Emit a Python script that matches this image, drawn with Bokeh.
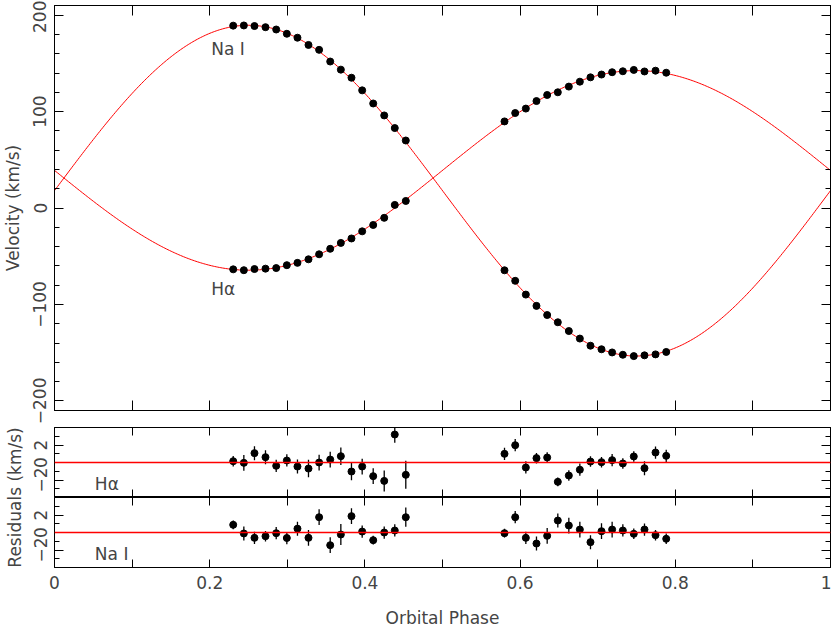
import math
import numpy as np
from bokeh.plotting import figure
from bokeh.models import LinearAxis, FixedTicker, CustomJSTickFormatter, Range1d, Span, Label
from bokeh.layouts import row, column
from bokeh.embed import file_html
from bokeh.resources import INLINE

# ---------------- data ----------------
phase = [0.2303, 0.2440, 0.2577, 0.2719, 0.2857, 0.2994, 0.3131, 0.3273, 0.3410,
         0.3553, 0.3690, 0.3827, 0.3965, 0.4107, 0.4249, 0.4385, 0.4527,
         0.5799, 0.5937, 0.6074, 0.6211, 0.6349, 0.6486, 0.6628, 0.6770,
         0.6907, 0.7049, 0.7186, 0.7324, 0.7465, 0.7603, 0.7745, 0.7883]

na_vel = [189.1, 189.3, 188.7, 187.5, 185.1, 180.7, 176.6, 169.1, 164.0,
          151.9, 143.5, 135.1, 122.0, 108.4, 96.0, 82.9, 70.0,
          -64.6, -75.5, -89.8, -101.5, -111.0, -118.5, -127.6, -135.4,
          -142.8, -146.5, -149.8, -152.2, -153.6, -152.8, -151.8, -149.3]

ha_vel = [-63.6, -64.5, -63.3, -62.9, -62.3, -59.3, -56.9, -53.2, -48.0,
          -42.3, -36.2, -31.6, -24.2, -17.6, -10.2, 3.2, 7.3,
          89.8, 98.5, 103.1, 110.9, 117.2, 120.0, 125.9, 131.0,
          135.5, 138.4, 140.8, 141.8, 143.2, 141.6, 142.4, 140.3]

ha_res = [0.15, -0.04, 1.07, 0.61, -0.38, 0.23, -0.46, -0.69, 0.0,
          0.34, 0.72, -1.03, -0.46, -1.56, -2.10, 3.2, -1.41,
          0.99, 1.98, -0.57, 0.50, 0.57, -2.21, -1.49, -0.82,
          0.11, 0.04, 0.27, -0.11, 0.69, -0.65, 1.14, 0.76]
ha_err = [0.6, 0.9, 0.8, 0.8, 0.7, 0.7, 0.8, 1.0, 0.9,
          0.9, 1.0, 1.0, 0.9, 0.9, 1.2, 0.95, 1.6,
          0.7, 0.7, 0.7, 0.6, 0.6, 0.5, 0.6, 0.7,
          0.6, 0.6, 0.7, 0.6, 0.6, 0.8, 0.7, 0.7]

na_res = [0.88, -0.11, -0.61, -0.42, -0.08, -0.63, 0.44, -0.61, 1.75,
          -1.45, -0.23, 1.87, 0.11, -0.88, 0.0, 0.23, 1.75,
          -0.08, 1.75, -0.61, -1.26, -0.38, 1.37, 0.8, 0.34,
          -1.1, 0.15, 0.34, 0.23, -0.15, 0.34, -0.30, -0.72]
na_err = [0.5, 0.8, 0.7, 0.6, 0.7, 0.7, 0.8, 0.9, 0.9,
          0.9, 1.2, 0.9, 0.7, 0.5, 0.7, 0.7, 1.1,
          0.5, 0.7, 0.7, 0.8, 0.9, 0.8, 0.9, 0.9,
          0.8, 0.9, 0.9, 0.7, 0.6, 0.7, 0.6, 0.6]

# sinusoidal orbit fits: v = gamma + K sin(2 pi phase)
na_gamma, na_k = 18.0, 171.5
ha_gamma, ha_k = 39.0, -103.5

x_ticks = [0, 0.2, 0.4, 0.6, 0.8, 1]
x_minor = [0.1, 0.3, 0.5, 0.7, 0.9]
v_ticks = [-200, -100, 0, 100, 200]
v_minor = list(range(-200, 201, 20))
r_ticks = [-2, 0, 2]
r_minor = [-3, -2, -1, 0, 1, 2, 3]

# ---------------- style / layout ----------------
FONT = "DejaVu Sans"
TXT = "#444444"
FS = "17px"
LBL_W = 25
BORDER_L = 29
FRAME_W = 776
BORDER_R = 1
TOP_B = 5
TOP_FH = 405
GAP = 17
RES_FH = 70
BOT_B = 59
TOTAL_H = TOP_B + TOP_FH + GAP + 2 * RES_FH + BOT_B

fmt = CustomJSTickFormatter(code="return String(tick).replace('-', '\u2212');")
blank = CustomJSTickFormatter(code="return '';")


def make_fig(frame_h, yr, mtop, mbot):
    p = figure(frame_width=FRAME_W, frame_height=frame_h,
               x_range=Range1d(0, 1), y_range=Range1d(*yr),
               x_axis_type=None, y_axis_type=None,
               output_backend="svg", toolbar_location=None,
               min_border_left=BORDER_L, min_border_right=BORDER_R,
               min_border_top=mtop, min_border_bottom=mbot)
    p.outline_line_color = "black"
    p.outline_line_width = 1
    p.background_fill_color = "white"
    p.border_fill_color = "white"
    return p


def add_axis(p, side, ticks, minor, tmaj, tmin, labels, standoff=8):
    ax = LinearAxis(ticker=FixedTicker(ticks=ticks, minor_ticks=minor),
                    formatter=fmt if labels else blank)
    ax.major_tick_in = tmaj
    ax.major_tick_out = 0
    ax.minor_tick_in = tmin
    ax.minor_tick_out = 0
    ax.axis_line_color = "black"
    ax.major_tick_line_color = "black"
    ax.minor_tick_line_color = "black"
    if labels:
        ax.major_label_text_font = FONT
        ax.major_label_text_font_size = FS
        ax.major_label_text_color = TXT
        ax.major_label_standoff = standoff
        if side in ("left", "right"):
            ax.major_label_orientation = "vertical"
    else:
        ax.major_label_text_font_size = "0px"
        ax.major_label_standoff = 0
    p.add_layout(ax, side)
    return ax


def tag(p, x, y, text):
    p.add_layout(Label(x=x, y=y, text=text, text_font=FONT, text_font_size=FS,
                       text_color=TXT, text_baseline="middle"))


curve_x = np.linspace(0, 1, 500)

# ---- top panel ----
f1 = make_fig(TOP_FH, (-210, 210), TOP_B, GAP)
add_axis(f1, "left", v_ticks, v_minor, 9, 5, True, 8)
add_axis(f1, "right", v_ticks, v_minor, 9, 5, False)
add_axis(f1, "above", x_ticks, x_minor, 10, 10, False)
add_axis(f1, "below", x_ticks, x_minor, 10, 10, False)
f1.line(curve_x, na_gamma + na_k * np.sin(2 * np.pi * curve_x), line_color="red", line_width=1)
f1.line(curve_x, ha_gamma + ha_k * np.sin(2 * np.pi * curve_x), line_color="red", line_width=1)
f1.scatter(phase, na_vel, size=7, fill_color="black", line_color="black")
f1.scatter(phase, ha_vel, size=7, fill_color="black", line_color="black")
tag(f1, 0.202, 165.3, "Na I")
tag(f1, 0.202, -84.5, "H\u03b1")


def res_panel(res, err, name, mbot, bottom_labels):
    p = make_fig(RES_FH, (-4, 4), 0, mbot)
    add_axis(p, "left", r_ticks, r_minor, 9, 5, True, 8)
    add_axis(p, "right", r_ticks, r_minor, 9, 5, False)
    add_axis(p, "above", x_ticks, x_minor, 8, 8, False)
    bx = add_axis(p, "below", x_ticks, x_minor, 8, 8, bottom_labels, 8)
    if bottom_labels:
        bx.axis_label = "Orbital Phase"
        bx.axis_label_text_font = FONT
        bx.axis_label_text_font_size = FS
        bx.axis_label_text_font_style = "normal"
        bx.axis_label_text_color = TXT
        bx.axis_label_standoff = 16
    p.add_layout(Span(location=0, dimension="width", line_color="red", line_width=1.5))
    lo = [r - e for r, e in zip(res, err)]
    hi = [r + e for r, e in zip(res, err)]
    p.segment(x0=phase, y0=lo, x1=phase, y1=hi, line_color="black", line_width=1.3)
    p.scatter(phase, res, size=7, fill_color="black", line_color="black")
    tag(p, 0.052, -2.45, name)
    return p


f2 = res_panel(ha_res, ha_err, "H\u03b1", 0, False)
f3 = res_panel(na_res, na_err, "Na I", BOT_B, True)

# ---- axis titles on the left ----
lab = figure(width=LBL_W, height=TOTAL_H, x_range=Range1d(0, LBL_W),
             y_range=Range1d(TOTAL_H, 0), x_axis_type=None, y_axis_type=None,
             output_backend="svg", toolbar_location=None, min_border=0)
lab.outline_line_color = None
lab.add_layout(Label(x=12, y=TOP_B + TOP_FH / 2, text="Velocity (km/s)",
                     angle=math.pi / 2, text_align="center", text_baseline="middle",
                     text_font=FONT, text_font_size=FS, text_color=TXT))
lab.add_layout(Label(x=14, y=TOP_B + TOP_FH + GAP + RES_FH, text="Residuals (km/s)",
                     angle=math.pi / 2, text_align="center", text_baseline="middle",
                     text_font=FONT, text_font_size=FS, text_color=TXT))

p = row(lab, column(f1, f2, f3))

open("out.html", "w").write(file_html(p, INLINE))
